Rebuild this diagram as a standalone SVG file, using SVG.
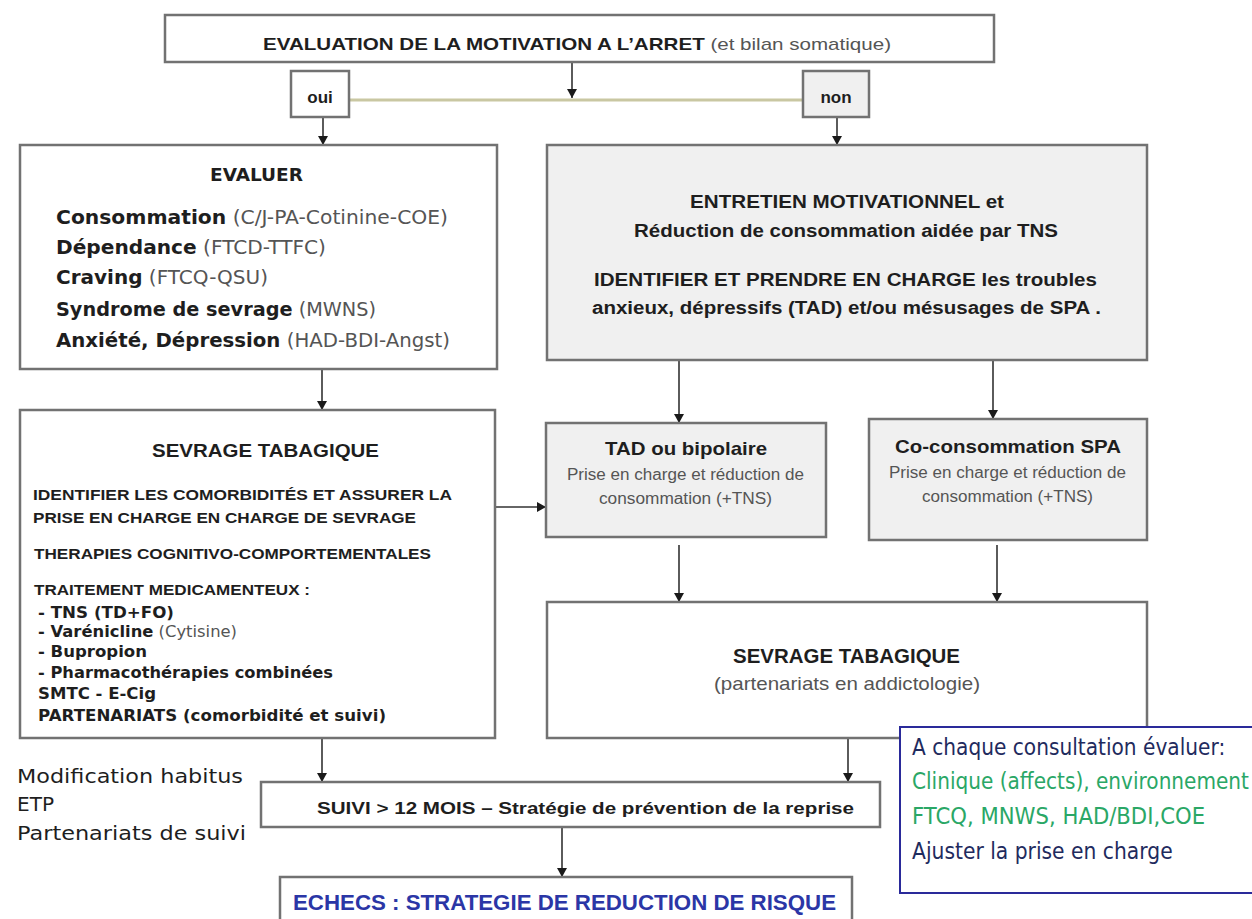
<svg xmlns="http://www.w3.org/2000/svg" width="1252" height="919" viewBox="0 0 1252 919">
  <defs>
    <marker id="arrow" markerUnits="userSpaceOnUse" markerWidth="9" markerHeight="10" refX="9" refY="5" orient="auto">
      <path d="M0,0 L9,5 L0,10 z" fill="#1a1a1a"/>
    </marker>
    <style>
      .box { fill: #ffffff; stroke: #727272; stroke-width: 2.5; }
      .grey { fill: #f0f0f0; }
      .conn { fill: none; stroke: #333333; stroke-width: 1.6; marker-end: url(#arrow); }
      .ar { font-family: "Liberation Sans", Arial, sans-serif; fill: #1e1e1e; }
      .ta { font-family: "DejaVu Sans", Tahoma, sans-serif; fill: #1e1e1e; }
      .b { font-weight: bold; }
      .soft { fill: #555555; font-weight: normal; }
      .navy { fill: #1f2b5e; }
      .green { fill: #2aa766; }
    </style>
  </defs>

  <rect width="1252" height="919" fill="#ffffff"/>

  <!-- connectors -->
  <g id="connectors">
    <line x1="349" y1="100" x2="803" y2="100" stroke="#c9c7a2" stroke-width="3"/>
    <line class="conn" x1="572" y1="62" x2="572" y2="98"/>
    <line class="conn" x1="323" y1="117" x2="323" y2="145"/>
    <line class="conn" x1="837" y1="117" x2="837" y2="145"/>
    <line class="conn" x1="322" y1="369" x2="322" y2="410"/>
    <line class="conn" x1="679" y1="360" x2="679" y2="423"/>
    <line class="conn" x1="993" y1="360" x2="993" y2="419"/>
    <line class="conn" x1="496" y1="507" x2="546" y2="507"/>
    <line class="conn" x1="679" y1="545" x2="679" y2="602"/>
    <line class="conn" x1="997" y1="545" x2="997" y2="602"/>
    <line class="conn" x1="322" y1="738" x2="322" y2="782"/>
    <line class="conn" x1="848" y1="738" x2="848" y2="782"/>
    <line class="conn" x1="562" y1="827" x2="562" y2="877"/>
  </g>

  <!-- motivation assessment -->
  <g id="motivation">
    <rect class="box" x="165" y="15" width="829" height="47"/>
    <text class="ar" x="263" y="50" font-size="17" textLength="628" lengthAdjust="spacingAndGlyphs"><tspan class="b">EVALUATION DE LA MOTIVATION A L’ARRET</tspan><tspan class="soft"> (et bilan somatique)</tspan></text>
  </g>

  <g id="oui">
    <rect class="box" x="291" y="71" width="58" height="46"/>
    <text class="ar b" x="320" y="103" font-size="17" text-anchor="middle">oui</text>
  </g>

  <g id="non">
    <rect class="box grey" x="803" y="71" width="66" height="46"/>
    <text class="ar b" x="836" y="103" font-size="17" text-anchor="middle">non</text>
  </g>

  <!-- evaluation -->
  <g id="evaluer">
    <rect class="box" x="20" y="145" width="477" height="224"/>
    <text class="ta b" x="210" y="181" font-size="18" textLength="93" lengthAdjust="spacingAndGlyphs">EVALUER</text>
    <text class="ta" x="56" y="224" font-size="19" textLength="392" lengthAdjust="spacingAndGlyphs"><tspan class="b">Consommation</tspan><tspan class="soft"> (C/J-PA-Cotinine-COE)</tspan></text>
    <text class="ta" x="56" y="254" font-size="19" textLength="270" lengthAdjust="spacingAndGlyphs"><tspan class="b">Dépendance</tspan><tspan class="soft"> (FTCD-TTFC)</tspan></text>
    <text class="ta" x="56" y="284" font-size="19" textLength="212" lengthAdjust="spacingAndGlyphs"><tspan class="b">Craving</tspan><tspan class="soft"> (FTCQ-QSU)</tspan></text>
    <text class="ta" x="56" y="316" font-size="19" textLength="320" lengthAdjust="spacingAndGlyphs"><tspan class="b">Syndrome de sevrage</tspan><tspan class="soft"> (MWNS)</tspan></text>
    <text class="ta" x="56" y="347" font-size="19" textLength="394" lengthAdjust="spacingAndGlyphs"><tspan class="b">Anxiété, Dépression</tspan><tspan class="soft"> (HAD-BDI-Angst)</tspan></text>
  </g>

  <!-- motivational interview -->
  <g id="entretien">
    <rect class="box grey" x="547" y="145" width="600" height="215"/>
    <text class="ar b" x="690" y="208" font-size="18" textLength="314" lengthAdjust="spacingAndGlyphs">ENTRETIEN MOTIVATIONNEL et</text>
    <text class="ar b" x="634" y="237" font-size="18" textLength="424" lengthAdjust="spacingAndGlyphs">Réduction de consommation aidée par TNS</text>
    <text class="ar b" x="594" y="286" font-size="18" textLength="503" lengthAdjust="spacingAndGlyphs">IDENTIFIER ET PRENDRE EN CHARGE les troubles</text>
    <text class="ar b" x="592" y="314" font-size="18" textLength="509" lengthAdjust="spacingAndGlyphs">anxieux, dépressifs (TAD) et/ou mésusages de SPA .</text>
  </g>

  <!-- smoking cessation, left -->
  <g id="sevrage-gauche">
    <rect class="box" x="20" y="410" width="475" height="328"/>
    <text class="ar b" x="152" y="457" font-size="19" textLength="227" lengthAdjust="spacingAndGlyphs">SEVRAGE TABAGIQUE</text>
    <text class="ar b" x="33" y="500" font-size="15" textLength="419" lengthAdjust="spacingAndGlyphs">IDENTIFIER LES COMORBIDITÉS  ET ASSURER LA</text>
    <text class="ar b" x="33" y="523" font-size="15" textLength="383" lengthAdjust="spacingAndGlyphs">PRISE EN CHARGE EN CHARGE DE SEVRAGE</text>
    <text class="ar b" x="34" y="559" font-size="15" textLength="397" lengthAdjust="spacingAndGlyphs">THERAPIES COGNITIVO-COMPORTEMENTALES</text>
    <text class="ar b" x="34" y="595" font-size="15" textLength="276" lengthAdjust="spacingAndGlyphs">TRAITEMENT MEDICAMENTEUX :</text>
    <text class="ta b" x="38" y="618" font-size="15" textLength="136" lengthAdjust="spacingAndGlyphs">- TNS (TD+FO)</text>
    <text class="ta" x="38" y="637" font-size="15" textLength="199" lengthAdjust="spacingAndGlyphs"><tspan class="b">- Varénicline</tspan><tspan class="soft"> (Cytisine)</tspan></text>
    <text class="ta b" x="38" y="657" font-size="15" textLength="109" lengthAdjust="spacingAndGlyphs">- Bupropion</text>
    <text class="ta b" x="38" y="678" font-size="15" textLength="295" lengthAdjust="spacingAndGlyphs">- Pharmacothérapies combinées</text>
    <text class="ta b" x="38" y="699" font-size="15" textLength="118" lengthAdjust="spacingAndGlyphs">SMTC - E-Cig</text>
    <text class="ta b" x="38" y="721" font-size="15" textLength="348" lengthAdjust="spacingAndGlyphs">PARTENARIATS (comorbidité et suivi)</text>
  </g>

  <!-- mood disorders -->
  <g id="tad">
    <rect class="box grey" x="546" y="423" width="280" height="114"/>
    <text class="ar b" x="605" y="455" font-size="19" textLength="162" lengthAdjust="spacingAndGlyphs">TAD ou bipolaire</text>
    <text class="ar soft" x="567" y="480" font-size="16" textLength="237" lengthAdjust="spacingAndGlyphs">Prise en charge et réduction de</text>
    <text class="ar soft" x="599" y="504" font-size="16" textLength="173" lengthAdjust="spacingAndGlyphs">consommation (+TNS)</text>
  </g>

  <!-- substance co-use -->
  <g id="co-consommation">
    <rect class="box grey" x="869" y="419" width="278" height="121"/>
    <text class="ar b" x="895" y="453" font-size="19" textLength="226" lengthAdjust="spacingAndGlyphs">Co-consommation SPA</text>
    <text class="ar soft" x="889" y="478" font-size="16" textLength="237" lengthAdjust="spacingAndGlyphs">Prise en charge et réduction de</text>
    <text class="ar soft" x="922" y="502" font-size="16" textLength="171" lengthAdjust="spacingAndGlyphs">consommation (+TNS)</text>
  </g>

  <!-- smoking cessation, right -->
  <g id="sevrage-droite">
    <rect class="box" x="547" y="602" width="600" height="136"/>
    <text class="ar b" x="733" y="663" font-size="20" textLength="227" lengthAdjust="spacingAndGlyphs">SEVRAGE TABAGIQUE</text>
    <text class="ar soft" x="714" y="690" font-size="19" textLength="266" lengthAdjust="spacingAndGlyphs">(partenariats en addictologie)</text>
  </g>

  <!-- follow-up -->
  <g id="suivi">
    <rect class="box" x="261" y="782" width="619" height="45"/>
    <text class="ar b" x="317" y="814" font-size="17" textLength="537" lengthAdjust="spacingAndGlyphs">SUIVI &gt; 12 MOIS – Stratégie de prévention de la reprise</text>
  </g>

  <g id="suivi-notes">
    <text class="ta" x="17" y="783" font-size="20" textLength="226" lengthAdjust="spacingAndGlyphs">Modification habitus</text>
    <text class="ta" x="17" y="811" font-size="20" textLength="37" lengthAdjust="spacingAndGlyphs">ETP</text>
    <text class="ta" x="17" y="840" font-size="20" textLength="229" lengthAdjust="spacingAndGlyphs">Partenariats de suivi</text>
  </g>

  <!-- failures -->
  <g id="echecs">
    <rect class="box" x="280" y="877" width="572" height="60"/>
    <text class="ar b" x="293" y="910" font-size="22" style="fill:#2b36a6" textLength="543" lengthAdjust="spacingAndGlyphs">ECHECS : STRATEGIE DE REDUCTION DE RISQUE</text>
  </g>

  <!-- per-visit checklist, set in a horizontally condensed face -->
  <g id="consultation">
    <rect x="900" y="727" width="362" height="166" fill="#ffffff" stroke="#2a2a9a" stroke-width="2"/>
    <text class="ta navy" transform="translate(912,755) scale(0.72,1)" font-size="23" textLength="435" lengthAdjust="spacingAndGlyphs">A chaque consultation évaluer:</text>
    <text class="ta green" transform="translate(912,789) scale(0.72,1)" font-size="23" textLength="468" lengthAdjust="spacingAndGlyphs">Clinique (affects), environnement</text>
    <text class="ta green" transform="translate(912,824) scale(0.72,1)" font-size="23" textLength="407" lengthAdjust="spacingAndGlyphs">FTCQ, MNWS, HAD/BDI,COE</text>
    <text class="ta navy" transform="translate(912,859) scale(0.72,1)" font-size="23" textLength="362" lengthAdjust="spacingAndGlyphs">Ajuster la prise en charge</text>
  </g>
</svg>
